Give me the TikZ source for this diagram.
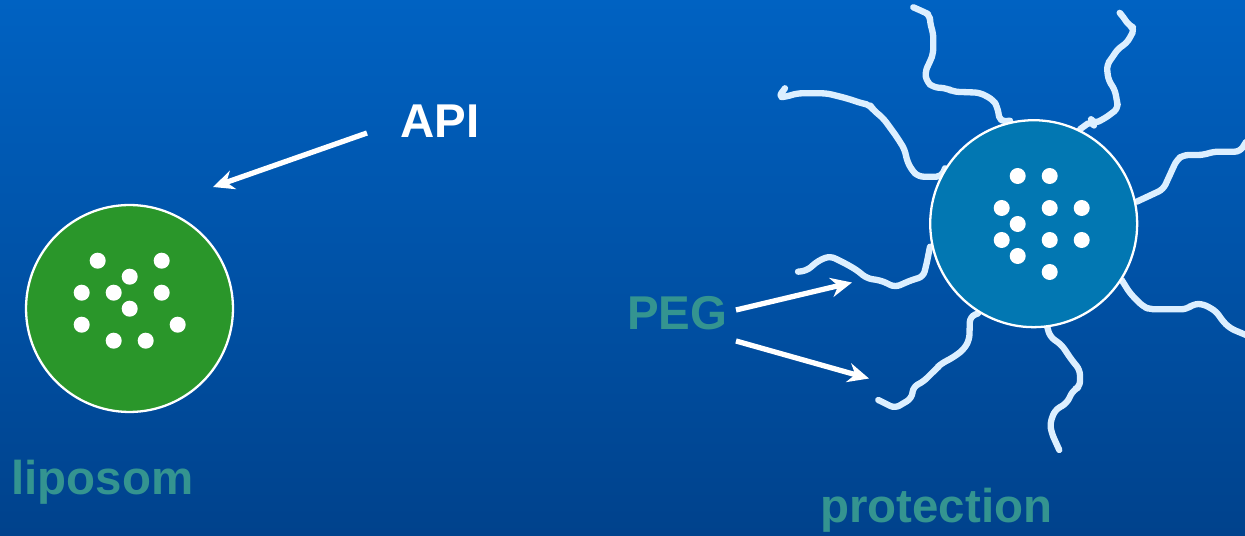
\documentclass[tikz,border=0pt]{standalone}
\usepackage{fontspec}
\setmainfont{Liberation Sans}
\usepackage{tikz}
\usetikzlibrary{arrows.meta,calc,positioning}
\definecolor{fondoArriba}{RGB}{0, 98, 194}
\definecolor{fondoAbajo}{RGB}{0, 66, 140}
\definecolor{verde}{RGB}{42, 150, 42}
\definecolor{azulPeg}{RGB}{2, 119, 178}
\definecolor{cadena}{RGB}{220, 239, 255}
\definecolor{turquesa}{RGB}{52, 148, 144}
\tikzstyle{edge}  =[->, >={Stealth[length=12pt,width=11pt]},
                    white, line width=3pt]
\tikzstyle{chain} =[cadena, line width=3.6pt, line cap=round,
                    line join=round, rounded corners=3pt]
\tikzstyle{vesicle}=[circle, draw=white, line width=1.3pt,
                    minimum size=4.14cm, inner sep=0pt]
\tikzstyle{label} =[font=\fontsize{27}{30}\selectfont\bfseries,
                    inner sep=0pt, anchor=base west]

\begin{document}
\begin{tikzpicture}[x=0.02cm,y=-0.02cm]
    \useasboundingbox (0,0) rectangle (1245,536);
    \shade[top color=fondoArriba, bottom color=fondoAbajo] (0,0) rectangle (1245,536);

    % liposome with its drug
    \node (lipo) [vesicle, fill=verde] at (129.5,308.5) {};
    \foreach \x/\y in {97.7/260.7,161.7/260.7,129.7/276.7,81.7/292.7,113.7/292.7,
        161.7/292.7,129.7/308.7,81.7/324.7,177.7/324.7,113.7/340.7,145.7/340.7}
        \fill[white] (\x,\y) circle (8);

    \node (api) [label, white] at (400,138) {API};
    \coordinate (apiTail) at (367,133);
    \coordinate (apiTip) at (213,187);
    \draw [edge] (apiTail) -- (apiTip);

    \node (liposom) [label, turquesa] at (11,495) {liposom};

    % PEG chains
    \draw[chain] (1010,120.7) -- (1000,121.7) -- (997.3,106.7) -- (993.3,100) -- (980,92.7)
        -- (953.3,91.7) -- (946.7,88.3) -- (933.3,87.3) -- (926.7,81.7) -- (925,71.7)
        -- (930,61.7) -- (933.3,53.3) -- (933.3,33.3) -- (930,23.3) -- (930,15)
        -- (923.3,11.7) -- (913.3,7.3);
    \draw[chain] (1080,129.3) -- (1091.7,120.7) -- (1093.3,124) -- (1105,118.3) -- (1118.3,108.3)
        -- (1116.7,100) -- (1115,90) -- (1108.3,80) -- (1106.7,65) -- (1111.7,58.3)
        -- (1118.3,48.3) -- (1126.7,43.3) -- (1135,28.3) -- (1128.3,25) -- (1123.3,16.7)
        -- (1121.7,15);
    \draw[chain] (945,168.3) -- (941.7,176.7) -- (918.3,176.7) -- (911.7,170) -- (906.7,160)
        -- (905,150) -- (896.7,136.7) -- (883.3,118.3) -- (873.3,110) -- (870,105)
        -- (861.7,103.3) -- (846.7,98.3) -- (826.7,93.3) -- (796.7,93.3) -- (786.7,96.7)
        -- (778.3,97.3) -- (785,88.3);
    \draw[chain] (1136.7,201.7) -- (1163.3,189.3) -- (1176.7,160) -- (1183.3,155) -- (1203.3,155)
        -- (1213.3,151.7) -- (1240,151.7) -- (1246,142);
    \draw[chain] (930,246.7) -- (926.7,263.3) -- (923.3,276.7) -- (911.7,280) -- (895,287.3)
        -- (881.7,280.7) -- (866.7,278.3) -- (856.7,270) -- (845,263.3) -- (830,256)
        -- (818.3,260.7) -- (806.7,270.7) -- (798,271.7);
    \draw[chain] (1121.7,280) -- (1130,293.3) -- (1143.3,306.7) -- (1150,309.3) -- (1186.7,309.3)
        -- (1193.3,304) -- (1203.3,304) -- (1216.7,311.7) -- (1221.7,320) -- (1230,328.3)
        -- (1246,335);
    \draw[chain] (978.3,313.3) -- (970,316.7) -- (969.3,340) -- (963.3,350) -- (951.7,358.3)
        -- (941.7,363.3) -- (935,370) -- (923.3,381.7) -- (913.3,386.7) -- (911.7,398.3)
        -- (895,408.3) -- (878.3,400);
    \draw[chain] (1046.7,325) -- (1050,336.7) -- (1061.7,345) -- (1071.7,360) -- (1080,370)
        -- (1080,386.7) -- (1073.3,390) -- (1066.7,403.3) -- (1055,410) -- (1050,423.3)
        -- (1051.7,433.3) -- (1059.3,450);

    % pegylated liposome
    \node (peglipo) [vesicle, fill=azulPeg] at (1033.7,223.7) {};
    \foreach \x/\y in {1017.7/176,1049.7/176,1001.7/208,1049.7/208,1081.7/208,1017.7/224,
        1001.7/240,1049.7/240,1081.7/240,1017.7/256,1049.7/272}
        \fill[white] (\x,\y) circle (8);

    \node (peg) [label, turquesa] at (627,330) {PEG};
    \coordinate (pegTailA) at (736,310);
    \coordinate (pegTipA) at (852,282.5);
    \coordinate (pegTailB) at (736,341);
    \coordinate (pegTipB) at (869,378.5);
    \draw [edge] (pegTailA) -- (pegTipA);
    \draw [edge] (pegTailB) -- (pegTipB);

    \node (protection) [label, turquesa] at (820,523) {protection};
\end{tikzpicture}
\end{document}
